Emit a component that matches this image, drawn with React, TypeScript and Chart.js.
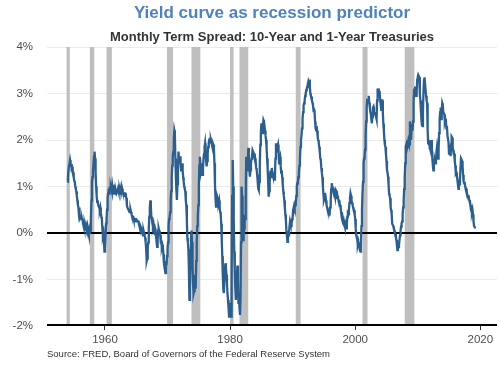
import React, { useEffect, useRef } from 'react';
import { Chart, registerables } from 'chart.js';

Chart.register(...registerables);

// ---- Data (percent, monthly, 10-Year minus 1-Year Treasury) ----
const spread1954to1959 = [
  1.10, 1.20, 1.35, 1.45, 1.50, 1.57, 1.50, 1.45, 1.40, 1.42, 1.35, 1.30,
  1.20, 1.12, 1.10, 1.00, 0.95, 0.89, 0.80, 0.70, 0.60, 0.55, 0.40, 0.30,
  0.30, 0.35, 0.30, 0.35, 0.30, 0.28, 0.20, 0.15, 0.10, 0.20, 0.15, 0.05,
  0.15, 0.10, 0.15, 0.05, 0.00, -0.05, 0.05, -0.02, 0.05, 0.30, 0.70, 1.10,
  1.20, 1.35, 1.50, 1.65, 1.75, 1.60, 1.30, 1.00, 0.80, 0.67, 0.70, 0.60,
  0.60, 0.55, 0.50, 0.55, 0.45, 0.35, 0.30, 0.10, -0.05, 0.00, -0.20, -0.40,
];
const spread1960s = [
  -0.35, -0.10, 0.20, 0.30, 0.50, 0.75, 0.85, 0.95, 0.85, 1.00, 0.90, 1.00,
  0.95, 0.90, 1.03, 0.95, 0.85, 0.90, 0.95, 0.95, 0.85, 0.90, 0.85, 0.85,
  0.90, 0.95, 0.90, 0.85, 0.95, 0.90, 0.95, 1.00, 0.90, 0.95, 0.90, 0.85,
  0.85, 0.80, 0.85, 0.85, 0.80, 0.75, 0.60, 0.55, 0.55, 0.50, 0.50, 0.45,
  0.45, 0.50, 0.45, 0.40, 0.35, 0.35, 0.35, 0.30, 0.30, 0.30, 0.25, 0.30,
  0.30, 0.30, 0.25, 0.25, 0.25, 0.20, 0.20, 0.15, 0.15, 0.15, 0.10, 0.00,
  0.00, -0.05, 0.05, 0.00, -0.05, -0.10, -0.20, -0.35, -0.60, -0.55, -0.35, -0.20,
  0.10, 0.35, 0.55, 0.70, 0.55, 0.35, 0.30, 0.20, 0.15, 0.20, 0.10, 0.05,
  0.10, 0.05, -0.05, -0.20, -0.30, -0.15, 0.05, 0.10, 0.05, 0.00, -0.05, -0.20,
  -0.20, -0.30, -0.25, -0.30, -0.45, -0.65, -0.72, -0.80, -0.86, -0.60, -0.70, -0.50,
];
const spread1970s = [
  -0.35, -0.20, 0.15, 0.30, 0.35, 0.45, 0.70, 0.90, 1.20, 1.45, 1.65, 1.75,
  2.00, 2.21, 2.15, 1.60, 1.20, 0.90, 0.71, 1.05, 1.35, 1.75, 1.60, 1.50,
  1.65, 1.50, 1.35, 1.40, 1.50, 1.35, 1.20, 1.10, 1.00, 0.95, 0.90, 0.70,
  0.60, 0.30, -0.10, -0.20, -0.35, -0.80, -1.44, -1.20, -0.60, -0.10, 0.05, -0.20,
  -0.70, -1.10, -1.30, -1.25, -1.00, -0.90, -1.20, -0.60, -0.20, 0.15, 0.35, 0.60,
  1.00, 1.45, 1.64, 1.50, 1.30, 1.35, 1.50, 1.25, 1.40, 1.60, 1.70, 1.85,
  1.93, 1.75, 1.55, 1.43, 1.55, 1.70, 1.85, 1.95, 2.00, 2.05, 1.95, 2.00,
  1.95, 1.90, 1.85, 1.93, 1.90, 1.80, 1.50, 1.05, 0.75, 0.57, 0.65, 0.70,
  0.75, 0.71, 0.65, 0.70, 0.55, 0.45, 0.40, 0.20, -0.15, -0.50, -0.90, -1.20,
  -1.29, -1.00, -0.80, -0.65, -0.75, -0.90, -1.10, -1.30, -1.44, -1.60, -1.80, -1.65,
];
const spread1980s = [
  -1.50, -1.60, -1.80, -0.90, 0.80, 1.57, 1.00, 0.30, -0.40, -0.80, -1.20, -1.44,
  -1.30, -1.00, -0.70, -1.00, -1.50, -1.30, -1.60, -1.76, -1.40, -0.20, 1.00, 0.80,
  0.30, -0.15, -0.05, 0.10, 0.40, 0.30, 0.80, 1.64, 1.50, 1.35, 1.50, 1.83,
  1.60, 1.40, 1.21, 1.35, 1.50, 1.60, 1.65, 1.78, 1.75, 1.70, 1.65, 1.71,
  1.60, 1.55, 1.40, 1.35, 1.25, 1.10, 0.95, 0.92, 1.10, 1.50, 1.90, 2.15,
  2.36, 2.20, 2.15, 2.30, 2.43, 2.40, 2.30, 2.20, 2.10, 2.00, 1.85, 1.60,
  1.40, 1.10, 0.78, 0.90, 1.10, 1.30, 1.35, 1.20, 1.40, 1.30, 1.25, 1.21,
  1.21, 1.15, 1.20, 1.60, 1.93, 1.80, 1.75, 1.85, 1.90, 1.78, 1.50, 1.60,
  1.64, 1.45, 1.30, 1.35, 1.20, 1.05, 0.90, 0.80, 0.70, 0.55, 0.40, 0.28,
  0.05, -0.05, -0.19, -0.10, -0.05, 0.00, 0.14, 0.25, 0.20, 0.15, 0.20, 0.30,
];
const spread1990s = [
  0.35, 0.50, 0.55, 0.60, 0.55, 0.60, 0.64, 0.80, 1.00, 1.07, 1.10, 1.20,
  1.30, 1.45, 1.60, 1.85, 2.00, 2.10, 2.25, 2.45, 2.60, 2.75, 2.79, 2.85,
  2.95, 3.00, 3.07, 3.10, 3.15, 3.20, 3.25, 3.20, 3.30, 3.15, 3.00, 2.95,
  2.93, 2.85, 2.80, 2.75, 2.64, 2.65, 2.60, 2.40, 2.25, 2.21, 2.30, 2.20,
  2.07, 2.00, 1.95, 1.85, 1.75, 1.60, 1.57, 1.40, 1.30, 1.20, 1.00, 0.85,
  0.71, 0.75, 0.86, 0.80, 0.70, 0.60, 0.55, 0.50, 0.45, 0.43, 0.40, 0.45,
  0.55, 0.70, 0.95, 1.07, 1.00, 0.95, 0.95, 0.90, 0.85, 0.80, 0.75, 0.92,
  0.90, 0.85, 0.80, 0.75, 0.71, 0.70, 0.60, 0.60, 0.55, 0.45, 0.35, 0.28,
  0.25, 0.20, 0.25, 0.20, 0.15, 0.14, 0.15, 0.10, 0.20, 0.35, 0.42, 0.40,
  0.50, 0.65, 0.75, 0.85, 0.80, 0.70, 0.65, 0.60, 0.55, 0.50, 0.49, 0.40,
];
const spread2000s = [
  0.30, 0.10, -0.05, -0.10, -0.15, -0.25, -0.20, -0.30, -0.30, -0.37, -0.40, -0.25,
  0.15, 0.50, 0.85, 1.10, 1.50, 1.60, 1.64, 1.80, 2.10, 2.40, 2.70, 2.86,
  2.86, 2.85, 2.95, 2.80, 2.70, 2.60, 2.55, 2.45, 2.36, 2.50, 2.70, 2.72,
  2.60, 2.55, 2.55, 2.60, 2.50, 2.45, 2.85, 3.11, 3.00, 3.00, 3.05, 3.00,
  2.86, 2.75, 2.65, 2.85, 2.85, 2.60, 2.35, 2.20, 2.00, 1.90, 1.85, 1.70,
  1.55, 1.35, 1.30, 1.21, 1.05, 0.85, 0.80, 0.75, 0.55, 0.49, 0.40, 0.20,
  0.20, 0.15, 0.10, 0.06, 0.05, -0.02, -0.08, -0.15, -0.25, -0.37, -0.35, -0.30,
  -0.25, -0.15, -0.05, 0.05, 0.14, 0.20, 0.25, 0.40, 0.55, 0.71, 0.95, 1.20,
  1.50, 1.86, 1.90, 1.80, 1.85, 1.93, 2.00, 1.95, 1.90, 2.40, 2.20, 2.00,
  2.20, 2.35, 2.20, 2.40, 2.80, 3.10, 3.00, 3.15, 2.95, 2.95, 3.05, 3.30,
];
const spread2010s = [
  3.35, 3.40, 3.40, 3.35, 3.00, 2.85, 2.64, 2.45, 2.32, 2.30, 2.60, 3.05,
  3.29, 3.35, 3.20, 3.20, 2.95, 2.85, 2.79, 2.20, 1.93, 2.00, 1.90, 1.85,
  1.86, 1.85, 2.00, 1.85, 1.60, 1.45, 1.35, 1.50, 1.50, 1.55, 1.50, 1.55,
  1.75, 1.85, 1.75, 1.60, 1.80, 2.15, 2.45, 2.60, 2.70, 2.45, 2.60, 2.79,
  2.75, 2.60, 2.60, 2.55, 2.40, 2.45, 2.40, 2.25, 2.30, 2.10, 2.10, 1.95,
  1.71, 1.75, 1.80, 1.65, 1.90, 2.07, 2.05, 1.85, 1.78, 1.70, 1.70, 1.55,
  1.45, 1.28, 1.30, 1.25, 1.15, 1.05, 0.95, 1.00, 1.05, 1.15, 1.40, 1.60,
  1.60, 1.55, 1.45, 1.25, 1.10, 1.07, 1.10, 1.00, 0.95, 0.95, 0.90, 0.80,
  0.80, 0.80, 0.75, 0.71, 0.70, 0.60, 0.50, 0.46, 0.45, 0.50, 0.40, 0.25,
  0.15, 0.14, 0.10, 0.10,
];
const blockStartYears = [1954, 1960, 1970, 1980, 1990, 2000, 2010];
const spreadBlocks = [spread1954to1959, spread1960s, spread1970s, spread1980s, spread1990s, spread2000s, spread2010s];

// NBER recessions (decimal years)
const recessionStarts = [1953.86, 1957.58, 1960.25, 1969.92, 1973.83, 1980.0, 1981.5, 1990.5, 2001.17, 2007.92];
const recessionEnds = [1954.38, 1958.29, 1961.1, 1970.88, 1975.24, 1980.56, 1982.9, 1991.27, 2001.97, 2009.46];

const xTickYears = [1960, 1980, 2000, 2020];
const yTickValues = [-2, -1, 0, 1, 2, 3, 4];

const titleText = 'Yield curve as recession predictor';
const subtitleText = 'Monthly Term Spread: 10-Year and 1-Year Treasuries';
const sourceText = 'Source: FRED, Board of Governors of the Federal Reserve System';

const FONT = '"Liberation Sans", Arial, Helvetica, sans-serif';

export default function App() {
  const canvasRef = useRef<HTMLCanvasElement | null>(null);

  useEffect(() => {
    document.body.style.margin = '0';
    const canvas = canvasRef.current;
    if (!canvas) return;

    const points = spreadBlocks.flatMap((block, b) =>
      block.map((v, i) => ({ x: blockStartYears[b] + i / 12, y: v }))
    );

    const overlayPlugin = {
      id: 'overlay',
      beforeDatasetsDraw(chart: any) {
        const { ctx, chartArea: a, scales } = chart;
        const xs = scales.x;
        const ys = scales.y;
        ctx.save();
        ctx.fillStyle = '#bfbfbf';
        recessionStarts.forEach((s, i) => {
          const x0 = xs.getPixelForValue(s);
          const x1 = xs.getPixelForValue(recessionEnds[i]);
          ctx.fillRect(x0, a.top, x1 - x0, a.bottom - a.top);
        });
        ctx.strokeStyle = '#000000';
        ctx.lineWidth = 2;
        [0, -2].forEach((v) => {
          const yy = ys.getPixelForValue(v) - (v === -2 ? 1 : 0);
          ctx.beginPath();
          ctx.moveTo(a.left, yy);
          ctx.lineTo(a.right, yy);
          ctx.stroke();
        });
        ctx.restore();
      },
      afterDraw(chart: any) {
        const { ctx, chartArea: a } = chart;
        const cx = (a.left + a.right) / 2;
        ctx.save();
        ctx.textAlign = 'center';
        ctx.textBaseline = 'alphabetic';
        ctx.fillStyle = '#4f81bd';
        ctx.font = `bold 17px ${FONT}`;
        ctx.fillText(titleText, cx, 17.5);
        ctx.fillStyle = '#333333';
        ctx.font = `bold 13px ${FONT}`;
        ctx.fillText(subtitleText, cx, 41);
        ctx.textAlign = 'left';
        ctx.font = `9.5px ${FONT}`;
        ctx.fillStyle = '#333333';
        ctx.fillText(sourceText, a.left, 357);
        ctx.restore();
      },
    };

    const chart = new Chart(canvas, {
      type: 'line',
      data: {
        datasets: [
          {
            data: points,
            borderColor: '#2d5f8e',
            borderWidth: 2.3,
            pointRadius: 0,
            tension: 0,
            fill: false,
          },
        ],
      },
      options: {
        animation: false,
        responsive: false,
        devicePixelRatio: 1,
        layout: { padding: { top: 47, right: 3, left: 0, bottom: 0 } },
        plugins: {
          legend: { display: false },
          tooltip: { enabled: false },
          title: { display: false },
        },
        scales: {
          x: {
            type: 'linear',
            min: 1950.73,
            max: 2022.67,
            afterBuildTicks: (scale: any) => {
              scale.ticks = xTickYears.map((v) => ({ value: v }));
            },
            afterFit: (scale: any) => {
              scale.height = 39;
            },
            grid: {
              display: true,
              drawOnChartArea: false,
              drawTicks: true,
              tickLength: 4,
              color: '#333333',
              lineWidth: 1,
            },
            border: { display: false },
            ticks: {
              autoSkip: false,
              maxRotation: 0,
              padding: 3,
              color: '#4d4d4d',
              font: { family: FONT, size: 11.5 },
              callback: (v: any) => String(v),
            },
          },
          y: {
            type: 'linear',
            min: -2,
            max: 4,
            afterBuildTicks: (scale: any) => {
              scale.ticks = yTickValues.map((v) => ({ value: v }));
            },
            afterFit: (scale: any) => {
              scale.width = 47;
            },
            grid: {
              drawTicks: false,
              color: (c: any) =>
                c.tick && (c.tick.value === 0 || c.tick.value === -2) ? 'rgba(0,0,0,0)' : '#ebebeb',
              lineWidth: 1,
            },
            border: { display: false },
            ticks: {
              padding: 14,
              color: '#4d4d4d',
              font: { family: FONT, size: 11.5 },
              callback: (v: any) => `${v}%`,
            },
          },
        },
      },
      plugins: [overlayPlugin],
    });

    return () => {
      chart.destroy();
    };
  }, []);

  return (
    <div style={{ position: 'absolute', left: 0, top: 0, width: 500, height: 365, background: '#ffffff' }}>
      <canvas ref={canvasRef} width={500} height={365} />
    </div>
  );
}
